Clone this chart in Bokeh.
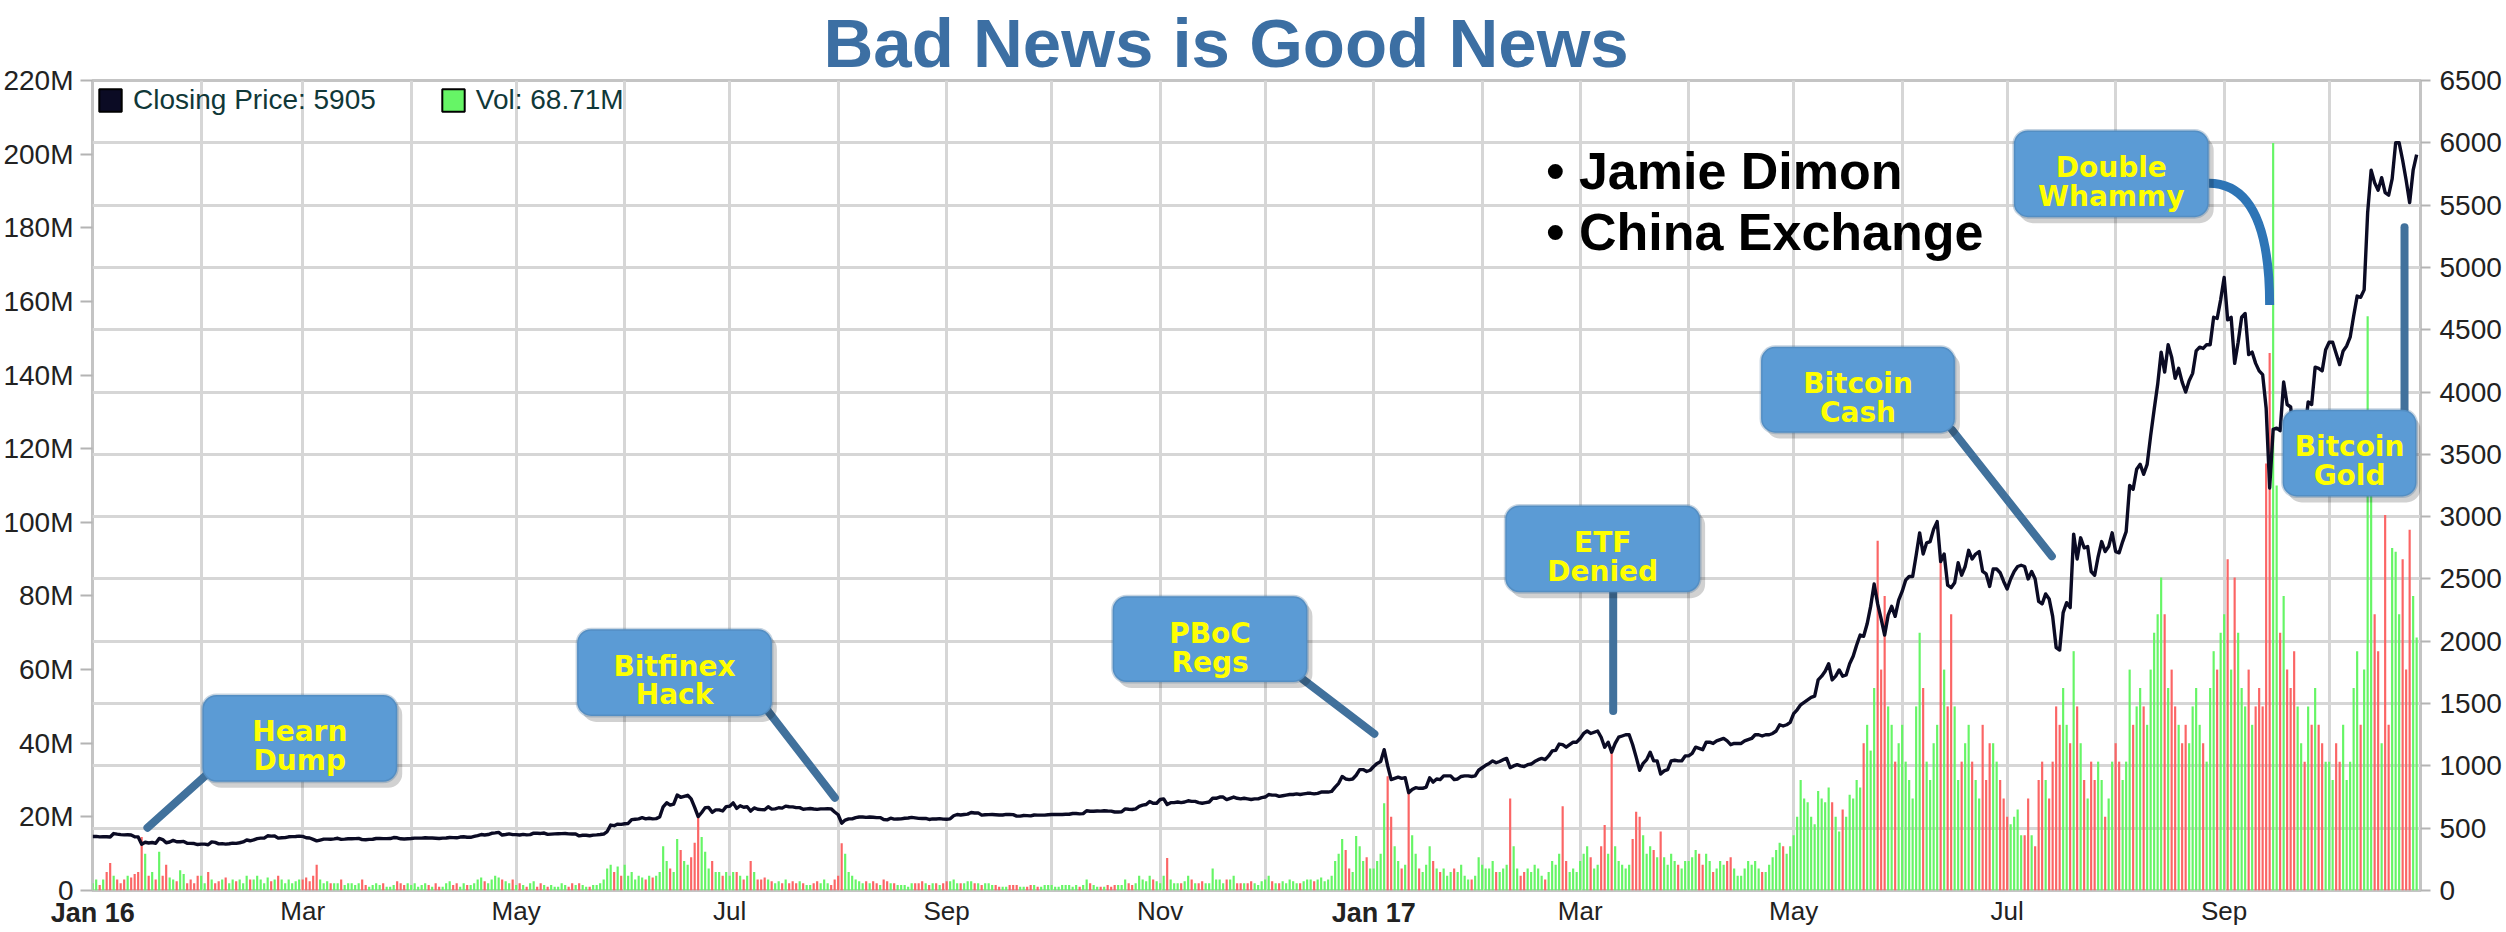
from datetime import datetime, timedelta

from bokeh.plotting import figure
from bokeh.models import (Range1d, LinearAxis, DatetimeAxis, FixedTicker, CustomJSTickFormatter, Label,
                          BoxAnnotation, Legend, LegendItem, ColumnDataSource)
from bokeh.embed import file_html
from bokeh.resources import INLINE

# ---------------------------------------------------------------- data
START = datetime(2016, 1, 1)          # first daily bar

# daily closing price (USD), 2016-01-01 .. 2016-12-31
close_2016 = [
    433, 434, 430, 432, 431, 429, 457, 452, 448, 446, 447, 445, 431, 430, 372, 387, 381, 385, 379, 418, 409, 383, 389, 402, 391, 391, 394, 379, 378, 377, 369,
    372, 372, 367, 390, 386, 374, 376, 372, 375, 380, 378, 383, 390, 405, 399, 406, 416, 420, 420, 439, 436, 437, 420, 423, 424, 431, 432, 433, 436,
    434, 423, 421, 410, 398, 405, 412, 412, 411, 414, 419, 410, 412, 415, 415, 416, 418, 408, 407, 410, 411, 417, 418, 416, 416, 417, 425, 423, 415, 413, 415,
    417, 420, 420, 420, 423, 421, 421, 419, 417, 420, 421, 425, 424, 423, 429, 431, 427, 427, 434, 441, 449, 445, 449, 459, 462, 466, 445, 449, 454, 448,
    448, 445, 450, 446, 448, 460, 459, 458, 461, 450, 452, 454, 455, 456, 457, 454, 453, 454, 438, 443, 443, 439, 444, 446, 449, 453, 473, 525, 520, 533, 531,
    536, 538, 569, 572, 575, 584, 575, 580, 575, 577, 590, 672, 704, 685, 694, 766, 748, 756, 764, 735, 667, 593, 626, 665, 666, 627, 647, 647, 638, 673,
    676, 703, 659, 680, 668, 672, 637, 663, 652, 649, 648, 672, 653, 655, 664, 661, 677, 672, 671, 665, 665, 652, 655, 658, 654, 651, 655, 655, 656, 655, 630,
    608, 540, 565, 575, 575, 585, 590, 590, 587, 590, 588, 585, 585, 570, 567, 580, 573, 574, 575, 580, 582, 587, 583, 579, 578, 578, 570, 575, 574, 577, 573,
    572, 575, 600, 610, 606, 610, 613, 626, 622, 623, 605, 608, 609, 610, 608, 606, 606, 611, 610, 609, 597, 597, 602, 601, 599, 606, 605, 605, 605, 608,
    610, 610, 610, 610, 612, 612, 618, 618, 615, 617, 640, 636, 636, 638, 637, 640, 638, 637, 630, 630, 632, 655, 652, 650, 655, 675, 685, 690, 715, 700, 700,
    730, 735, 690, 705, 705, 710, 705, 710, 720, 715, 715, 705, 700, 705, 710, 740, 740, 750, 750, 730, 740, 750, 740, 735, 740, 735, 730, 735, 735, 745,
    750, 770, 765, 765, 755, 760, 765, 770, 770, 775, 770, 775, 780, 780, 775, 780, 790, 790, 790, 795, 830, 860, 915, 895, 890, 895, 925, 970, 970, 955, 965,
]

# daily closing price (USD), 2017-01-01 .. 2017-10-26
close_2017 = [
    995, 1020, 1035, 1130, 1000, 890, 900, 910, 900, 905, 785, 810, 825, 820, 820, 830, 905, 870, 895, 890, 920, 920, 920, 890, 895, 915, 920, 920, 915, 920, 965,
    985, 1005, 1020, 1040, 1025, 1035, 1050, 1060, 985, 1000, 1010, 1000, 995, 1010, 1015, 1035, 1050, 1060, 1050, 1080, 1120, 1125, 1175, 1170, 1150, 1170, 1190, 1190,
    1220, 1260, 1280, 1260, 1270, 1280, 1230, 1150, 1190, 1110, 1180, 1230, 1240, 1250, 1250, 1170, 1070, 965, 1020, 1050, 1110, 1040, 1040, 935, 960, 970, 1040, 1045, 1040, 1040, 1080,
    1080, 1100, 1150, 1140, 1130, 1190, 1190, 1180, 1200, 1210, 1220, 1200, 1170, 1180, 1180, 1180, 1200, 1210, 1220, 1250, 1250, 1240, 1250, 1250, 1260, 1280, 1330, 1320, 1330, 1350,
    1420, 1450, 1490, 1510, 1530, 1550, 1560, 1690, 1720, 1760, 1820, 1690, 1720, 1770, 1720, 1730, 1820, 1880, 1970, 2050, 2040, 2140, 2280, 2460, 2300, 2180, 2050, 2210, 2280, 2200, 2330,
    2400, 2490, 2520, 2520, 2690, 2870, 2700, 2790, 2800, 2900, 2960, 2640, 2700, 2450, 2430, 2470, 2630, 2530, 2600, 2730, 2660, 2700, 2720, 2560, 2540, 2440, 2580, 2580, 2550, 2480,
    2420, 2500, 2560, 2600, 2610, 2600, 2500, 2560, 2500, 2320, 2300, 2380, 2340, 2200, 1950, 1930, 2230, 2310, 2270, 2860, 2660, 2830, 2750, 2760, 2560, 2530, 2680, 2800, 2720, 2760, 2870,
    2720, 2710, 2800, 2880, 3250, 3220, 3380, 3420, 3340, 3420, 3650, 3860, 4060, 4320, 4160, 4380, 4280, 4110, 4190, 4080, 4000, 4090, 4150, 4330, 4360, 4350, 4380, 4380, 4600, 4590, 4740,
    4920, 4580, 4600, 4230, 4400, 4600, 4630, 4300, 4320, 4230, 4170, 4140, 3870, 3230, 3700, 3710, 3690, 4080, 3900, 3880, 3610, 3610, 3770, 3670, 3920, 3900, 4200, 4190, 4170, 4340,
    4400, 4400, 4310, 4220, 4330, 4370, 4440, 4610, 4770, 4760, 4820, 5440, 5780, 5680, 5620, 5720, 5600, 5580, 5710, 6000, 6000, 5860, 5700, 5520, 5780, 5905,
]

# daily volume (millions), 2016
vol_2016 = [
    2, 3, 1.5, 3, 5, 7.5, 4, 3, 2, 3, 4, 3.5, 4.5, 5, 14.5, 10, 4, 5, 3, 10.5, 4, 7, 3.5, 3, 2.5, 5.5, 4.5, 2, 3, 2, 4,
    4, 2, 5, 3, 2, 2.5, 3, 3.5, 2, 3, 2.5, 3, 2, 4, 3, 3, 4, 3, 2, 3.5, 2.5, 3, 4, 3, 2, 3, 2, 2.5, 3,
    3, 3.5, 2.5, 4, 7, 3, 2, 2.5, 2, 2, 2, 3, 1.5, 2, 2, 1.5, 2, 3, 1.5, 1, 1.5, 2, 1.5, 2, 1, 1, 1.5, 2.5, 2, 1.5, 2,
    1.5, 2, 1, 1.5, 2, 1.5, 1, 2, 1, 1, 2, 2.5, 1.5, 2, 1, 2, 1.5, 1.5, 2, 3, 3.5, 2.5, 2, 3, 4, 3.5, 3, 2.5, 2, 3,
    1.5, 2, 1.5, 1, 2, 2.5, 1, 2, 1.5, 1, 1.5, 1, 1, 2, 1.5, 1, 2, 1.5, 2, 1.5, 1, 1, 1.5, 1.5, 2, 3, 6, 7, 5, 6.5, 4,
    7, 4, 5, 3, 4, 3.5, 3, 4, 3.5, 4, 5, 12, 8, 6, 5, 14, 11, 8, 7, 9, 13, 20.5, 14.5, 10.5, 6, 8, 5, 5, 4, 5,
    4, 5, 5, 4, 3, 4, 8, 5, 3, 3, 3.5, 3, 2.5, 2, 2.5, 2, 3, 2, 2.5, 2, 2.5, 2, 1.5, 1.5, 2, 2.5, 2, 3, 2, 1.5, 3,
    4, 12.8, 10, 5, 4, 3, 2.5, 2, 2.5, 2, 2.5, 2, 1.5, 3, 2.5, 2, 2, 1.5, 1.5, 1.5, 1, 2, 2, 2, 2.5, 2, 1.5, 2, 2, 1.5, 2,
    2.5, 2.5, 3, 2, 2, 2, 2.5, 2.5, 2, 2, 1.5, 2, 2, 1.5, 1.5, 1, 1, 1, 1.5, 1.5, 1.5, 1, 1, 1, 1.5, 1.5, 1, 1, 1.5, 1.5,
    1.5, 1, 1, 1.5, 1.5, 1.5, 1, 1.5, 1, 1.5, 3, 2, 1.5, 1, 1, 1, 1.5, 1, 1.5, 1.5, 1.5, 3, 2, 1.5, 2, 4, 3, 2.5, 4, 3, 2.5,
    2, 4, 8.8, 3, 2, 2, 2, 2.5, 4, 3, 2, 2, 2.5, 2, 2, 6, 3, 3, 2, 3, 3, 4, 2, 2, 2, 2, 2.5, 2, 1.5, 2.5,
    3, 4, 2.5, 2, 2, 2.5, 2, 3, 2.5, 2, 2, 2.5, 3, 3, 2.5, 3, 3.5, 2.5, 3, 4, 8, 10, 14, 11, 6, 5, 14.8, 12, 8, 9, 6,
]

# daily volume (millions), 2017
vol_2017 = [
    6, 8, 10, 23.7, 31, 20, 12, 8, 6, 7, 26.7, 15, 10, 6, 5, 7, 12, 8, 6, 5, 6, 4, 5, 6, 5, 7, 4, 3, 3, 4, 9,
    7, 6, 6, 8, 5, 5, 6, 7, 25, 12, 6, 4, 5, 6, 5, 7, 6, 4, 3, 5, 8, 7, 10, 22.9, 8, 5, 6, 5,
    8, 10, 12, 9, 6, 7, 12, 17.8, 10, 38, 12, 8, 7, 6, 7, 14, 21.4, 20, 15, 10, 12, 11, 9, 16, 9, 7, 10, 8, 7, 6, 8,
    8, 9, 11, 10, 7, 10, 8, 5, 6, 8, 7, 8, 9, 6, 4, 4, 6, 8, 7, 8, 6, 5, 5, 7, 9, 11, 13, 12, 10, 12,
    15, 20, 30, 25, 24, 20, 18, 27, 25, 24, 28, 24, 20, 16, 22, 20, 26, 25, 30, 28, 40, 45, 38, 55, 95, 60, 80, 50, 45, 35, 40,
    45, 35, 30, 25, 50, 70, 55, 35, 30, 40, 45, 90, 60, 50, 75, 50, 30, 35, 40, 45, 35, 30, 25, 45, 30, 40, 40, 35, 30, 25,
    20, 18, 20, 22, 15, 15, 25, 15, 12, 30, 35, 30, 25, 35, 50, 45, 55, 45, 40, 65, 50, 40, 30, 25, 35, 30, 35, 30, 20, 25, 35,
    40, 35, 30, 35, 60, 45, 50, 55, 50, 45, 60, 70, 75, 85, 75, 55, 60, 50, 45, 40, 45, 40, 50, 55, 45, 40, 35, 55, 65, 60, 70,
    75, 90, 60, 85, 70, 55, 50, 60, 45, 50, 55, 50, 116, 146, 203, 110, 70, 80, 60, 55, 65, 50, 40, 35, 50, 45, 55, 45, 40, 35,
    35, 30, 40, 35, 45, 30, 35, 55, 65, 45, 60, 156, 110, 75, 65, 40, 102, 45, 93, 92, 75, 90, 60, 98, 80, 68.71,
]

# x-axis labels (every other month) and their dates
tick_dates = [datetime(2016, 1, 1), datetime(2016, 3, 1), datetime(2016, 5, 1), datetime(2016, 7, 1),
              datetime(2016, 9, 1), datetime(2016, 11, 1), datetime(2017, 1, 1), datetime(2017, 3, 1),
              datetime(2017, 5, 1), datetime(2017, 7, 1), datetime(2017, 9, 1)]
tick_labels = ["Jan 16", "Mar", "May", "Jul", "Sep", "Nov", "Jan 17", "Mar", "May", "Jul", "Sep"]

vol_ticks = [0, 20e6, 40e6, 60e6, 80e6, 100e6, 120e6, 140e6, 160e6, 180e6, 200e6, 220e6]
price_ticks = [0, 500, 1000, 1500, 2000, 2500, 3000, 3500, 4000, 4500, 5000, 5500, 6000, 6500]

# callouts: text lines, box in reference pixel coordinates (left, top, right, bottom)
callouts = [
    (["Hearn", "Dump"], 202, 696, 397, 783),
    (["Bitfinex", "Hack"], 577, 630, 772, 717),
    (["PBoC", "Regs"], 1113, 597, 1308, 683),
    (["ETF", "Denied"], 1506, 506, 1701, 593),
    (["Bitcoin", "Cash"], 1762, 347, 1956, 433),
    (["Double", "Whammy"], 2015, 130, 2210, 217),
    (["Bitcoin", "Gold"], 2284, 410, 2418, 497),
]
# straight leaders (x0, y0, x1, y1) in reference pixel coordinates
leaders = [
    (205, 777, 147, 829),
    (768, 712, 835, 799),
    (1303, 680, 1375, 735),
    (1614, 593, 1614, 712),
    (1953, 430, 2053, 557),
    (2406, 227, 2406, 410),
]
bullets = ["\u2022 Jamie Dimon", "\u2022 China Exchange"]

# ---------------------------------------------------------------- helpers
EPOCH = datetime(1970, 1, 1)
DAY_MS = 86400000.0


def ms(d):
    return (d - EPOCH).total_seconds() * 1000.0


# frame geometry (page pixels) and the data span it shows
W, H = 2504, 930
FL, FR, FT, FB = 92, 2422, 80, 892
D0, D1 = -0.05, 665.1                       # days from START at the frame edges
X_START = ms(START) + D0 * DAY_MS
X_END = ms(START) + D1 * DAY_MS


def sx(px):
    return X_START + (px - FL) / (FR - FL) * (X_END - X_START)


def sy(py):
    return (FB - py) / (FB - FT) * 6500.0


close = close_2016 + close_2017
vol_m = vol_2016 + vol_2017
assert len(close) == len(vol_m) == 665, (len(close), len(vol_m))
dates = [START + timedelta(days=i) for i in range(len(close))]

UP, DOWN = "#66f566", "#fb6565"
colors = [UP if i == 0 or close[i] >= close[i - 1] else DOWN for i in range(len(close))]
src = ColumnDataSource(dict(date=dates, close=close, vol=[v * 1e6 for v in vol_m], color=colors))

# ---------------------------------------------------------------- figure
GRID = "#d6d6d6"
AXIS_TXT = "#222222"
FONT = "Liberation Sans"

p = figure(width=W, height=H, output_backend="svg", toolbar_location=None,
           x_axis_type="datetime", y_axis_location="right", title="Bad News is Good News",
           x_range=Range1d(X_START, X_END), y_range=Range1d(0, 6500),
           min_border_left=FL, min_border_right=W - FR, min_border_top=FT, min_border_bottom=H - FB)
p.extra_y_ranges = {"vol": Range1d(0, 220e6)}
p.background_fill_color = "white"
p.border_fill_color = "white"
p.outline_line_color = "#c4c4c4"
p.outline_line_width = 3

# title
p.title.text_font = FONT
p.title.text_font_style = "bold"
p.title.text_font_size = "69px"
p.title.text_color = "#3c6fa3"
p.title.align = "left"
p.title.offset = 1225 - 402 - FL
p.title.vertical_align = "top"
p.title.standoff = -6

# right (price) axis
ra = p.yaxis[0]
ra.ticker = FixedTicker(ticks=price_ticks)
ra.major_label_text_font = FONT
ra.major_label_text_font_size = "28px"
ra.major_label_text_color = AXIS_TXT
ra.major_tick_out = 10
ra.major_tick_in = 0
ra.minor_tick_out = 0
ra.minor_tick_in = 0
ra.major_tick_line_color = "#b4b4b4"
ra.major_tick_line_width = 2
ra.minor_tick_line_color = None
ra.axis_line_color = None
ra.major_label_standoff = 9

# left (volume) axis
la = LinearAxis(y_range_name="vol", ticker=FixedTicker(ticks=vol_ticks),
                formatter=CustomJSTickFormatter(code='return tick == 0 ? "0" : Math.round(tick / 1e6) + "M";'))
la.major_label_text_font = FONT
la.major_label_text_font_size = "28px"
la.major_label_text_color = AXIS_TXT
la.major_tick_out = 12
la.major_tick_in = 0
la.minor_tick_out = 0
la.minor_tick_in = 0
la.major_tick_line_color = "#b4b4b4"
la.major_tick_line_width = 2
la.minor_tick_line_color = None
la.axis_line_color = None
la.major_label_standoff = 7
p.add_layout(la, "left")

# date axes: regular months (normal weight) and year starts (bold) share one row
LABEL_FMT = """
    for (let i = 0; i < tick_pos.length; i++) {
        if (Math.abs(tick_pos[i] - tick) < 1000) { return tick_txt[i]; }
    }
    return "";
"""
tick_ms = [ms(d) for d in tick_dates]
month_ms = [t for t, s in zip(tick_ms, tick_labels) if not s.startswith("Jan")]
year_ms = [t for t, s in zip(tick_ms, tick_labels) if s.startswith("Jan")]
fmt = CustomJSTickFormatter(args=dict(tick_pos=tick_ms, tick_txt=tick_labels), code=LABEL_FMT)

MONTH_STANDOFF = 5
xa = p.xaxis[0]
xa.ticker = FixedTicker(ticks=month_ms)
xa.formatter = fmt
xa.major_label_text_font = FONT
xa.major_label_text_font_size = "26px"
xa.major_label_text_color = AXIS_TXT
xa.major_label_standoff = MONTH_STANDOFF

ya = DatetimeAxis(ticker=FixedTicker(ticks=year_ms), formatter=fmt)
ya.major_label_text_font = FONT
ya.major_label_text_font_style = "bold"
ya.major_label_text_font_size = "27px"
ya.major_label_text_color = AXIS_TXT
ya.major_label_standoff = MONTH_STANDOFF - (MONTH_STANDOFF + 31)   # pulled up beside the month labels
p.add_layout(ya, "below")

for ax in (xa, ya):
    ax.major_tick_out = 0
    ax.major_tick_in = 0
    ax.minor_tick_out = 0
    ax.minor_tick_in = 0
    ax.major_tick_line_color = None
    ax.minor_tick_line_color = None
    ax.axis_line_color = None

# grids: monthly verticals, price-tick horizontals
grid_ms = []
y, m = 2016, 2
while (y, m) <= (2017, 10):
    grid_ms.append(ms(datetime(y, m, 1)))
    m += 1
    if m == 13:
        y, m = y + 1, 1
p.xgrid.ticker = FixedTicker(ticks=grid_ms)
p.ygrid.ticker = FixedTicker(ticks=price_ticks)
for g in (p.xgrid[0], p.ygrid[0]):
    g.grid_line_color = GRID
    g.grid_line_width = 3

# data marks
p.vbar(x="date", top="vol", width=0.62 * DAY_MS, fill_color="color", line_color=None,
       y_range_name="vol", source=src)
p.line(x="date", y="close", line_color="#0b0b24", line_width=3.4, line_join="round", source=src)

# leaders
LEAD = "#41719c"
p.segment(x0=[sx(a) for a, b, c, d in leaders], y0=[sy(b) for a, b, c, d in leaders],
          x1=[sx(c) for a, b, c, d in leaders], y1=[sy(d) for a, b, c, d in leaders],
          line_color=LEAD, line_width=8, line_cap="round")
p.quadratic(x0=[sx(2210)], y0=[sy(183)], x1=[sx(2271)], y1=[sy(305)],
            cx=[sx(2271)], cy=[sy(183)], line_color="#2e75b6", line_width=9)

# callout boxes
for lines, l, t, r, b in callouts:
    p.add_layout(BoxAnnotation(left=sx(l + 5), right=sx(min(r + 5, FR)), top=sy(t + 6), bottom=sy(b + 6),
                               fill_color="#000000", fill_alpha=0.18, line_color=None,
                               border_radius=14))
for lines, l, t, r, b in callouts:
    p.add_layout(BoxAnnotation(left=sx(l), right=sx(r), top=sy(t), bottom=sy(b),
                               fill_color="#5b9bd5", fill_alpha=1.0, line_color="#41719c",
                               line_width=3, border_radius=14))
    for i, txt in enumerate(lines):
        p.add_layout(Label(x=sx((l + r) / 2), y=sy(t + 37 + 29 * i), text=txt,
                           text_align="center", text_baseline="alphabetic",
                           text_font="DejaVu Sans", text_font_style="bold",
                           text_font_size="28px", text_color="#ffff00"))

# bullet text
for i, txt in enumerate(bullets):
    p.add_layout(Label(x=sx(1547), y=sy(171 + 61 * i), text=txt, text_align="left",
                       text_baseline="alphabetic", text_font=FONT, text_font_style="bold",
                       text_font_size="52px", text_color="#000000"))

# legend (swatch renderers sit outside the visible date range)
before = [START - timedelta(days=60)]
before2 = [START - timedelta(days=59)]
sq_price = p.quad(left=before, right=before2, top=[1], bottom=[0],
                  fill_color="#0b0b24", line_color="#000000", line_width=2)
sq_vol = p.quad(left=before, right=before2, top=[1], bottom=[0],
                fill_color=UP, line_color="#000000", line_width=2)
legend = Legend(items=[LegendItem(label=f"Closing Price: {close[-1]}", renderers=[sq_price]),
                       LegendItem(label=f"Vol: {vol_m[-1]:.2f}M", renderers=[sq_vol])],
                location="top_left", orientation="horizontal", margin=4, padding=5,
                spacing=63, label_standoff=9, glyph_width=28, glyph_height=28,
                label_text_font=FONT, label_text_font_size="28px", label_text_color="#103838",
                background_fill_alpha=0.0, border_line_color=None)
p.add_layout(legend)

open("out.html", "w").write(file_html(p, INLINE))
